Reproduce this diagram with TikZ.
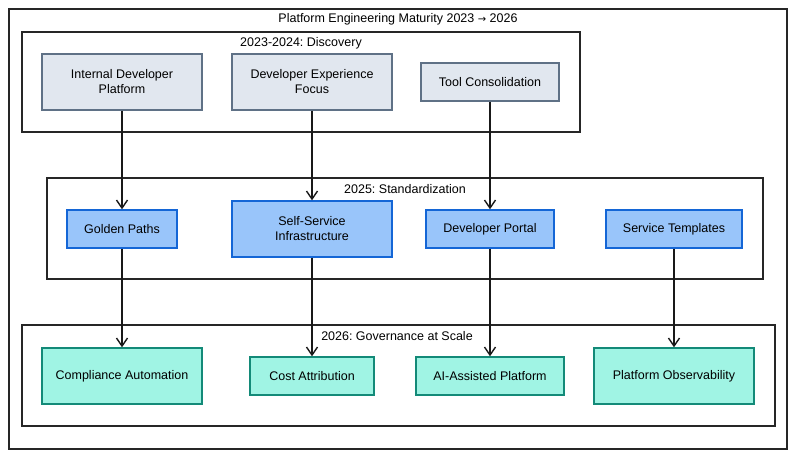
\documentclass[tikz,border=0pt]{standalone}
\usepackage{fontspec}
\setmainfont{Liberation Sans}
\usetikzlibrary{arrows.meta}
\definecolor{grayfill}{HTML}{E1E7EF}
\definecolor{graydraw}{HTML}{5F7186}
\definecolor{bluefill}{HTML}{99C5FA}
\definecolor{bluedraw}{HTML}{1466D6}
\definecolor{tealfill}{HTML}{A0F4E4}
\definecolor{tealdraw}{HTML}{138A78}
\frenchspacing
\tikzset{
  base/.style={rectangle, inner sep=2pt, align=center, font=\fontsize{12.5}{15}\selectfont, line width=1.4pt},
  discbox/.style={base, draw=graydraw, fill=grayfill},
  stdbox/.style={base, draw=bluedraw, fill=bluefill},
  govbox/.style={base, draw=tealdraw, fill=tealfill},
  frame/.style={rectangle, draw=black!85, line width=1.5pt, inner sep=0pt},
  lbl/.style={font=\fontsize{12.5}{15}\selectfont, inner sep=0pt},
  conn/.style={draw=black!90, line width=1.5pt, -{Straight Barb[length=8pt,width=11pt,line width=1.4pt]}}
}
\begin{document}
\begin{tikzpicture}[x=1pt,y=-1pt]
\useasboundingbox (0,0) rectangle (800,462);
% containers
\node[frame, minimum width=778pt, minimum height=440pt] (outer) at (398,229) {};
\node[frame, minimum width=558pt, minimum height=100pt] (disc) at (301,82) {};
\node[frame, minimum width=716pt, minimum height=101pt] (std) at (405,228.5) {};
\node[frame, minimum width=753pt, minimum height=101pt] (gov) at (398.5,375.5) {};
% labels
\node[lbl] (title) at (398,19) {Platform Engineering Maturity 2023 {\fontspec{DejaVu Sans}\fontsize{10}{12}\selectfont →} 2026};
\node[lbl] (disclbl) at (301,43) {2023-2024: Discovery};
\node[lbl] (stdlbl) at (405,189) {2025: Standardization};
\node[lbl] (govlbl) at (397,336) {2026: Governance at Scale};
% discovery
\node[discbox, minimum width=160pt, minimum height=56pt] (idp) at (122,82) {Internal Developer\\Platform};
\node[discbox, minimum width=160pt, minimum height=56pt] (dxf) at (312,82) {Developer Experience\\Focus};
\node[discbox, minimum width=138pt, minimum height=38pt] (tool) at (490,82) {Tool Consolidation};
% standardization
\node[stdbox, minimum width=110pt, minimum height=38pt] (golden) at (122,229) {Golden Paths};
\node[stdbox, minimum width=160pt, minimum height=56pt] (ssi) at (312,229) {Self-Service\\Infrastructure};
\node[stdbox, minimum width=128pt, minimum height=38pt] (portal) at (490,229) {Developer Portal};
\node[stdbox, minimum width=136pt, minimum height=38pt] (templ) at (674,229) {Service Templates};
% governance
\node[govbox, minimum width=160pt, minimum height=56pt] (comp) at (122,376) {Compliance Automation};
\node[govbox, minimum width=124pt, minimum height=38pt] (cost) at (312,376) {Cost Attribution};
\node[govbox, minimum width=148pt, minimum height=38pt] (ai) at (490,376) {AI-Assisted Platform};
\node[govbox, minimum width=160pt, minimum height=56pt] (obs) at (674,376) {Platform Observability};
% connectors
\draw[conn] (idp) -- (golden);
\draw[conn] (dxf) -- (ssi);
\draw[conn] (tool) -- (portal);
\draw[conn] (golden) -- (comp);
\draw[conn] (ssi) -- (cost);
\draw[conn] (portal) -- (ai);
\draw[conn] (templ) -- (obs);
\end{tikzpicture}
\end{document}
